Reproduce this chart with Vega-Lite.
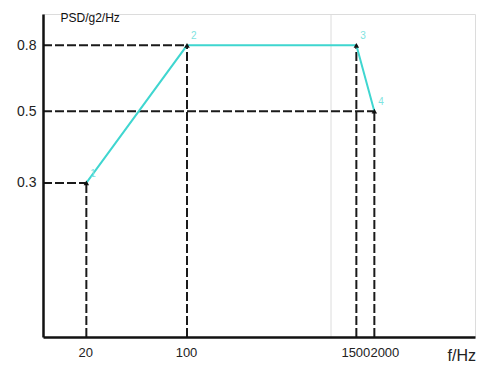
{
  "$schema": "https://vega.github.io/schema/vega-lite/v6.json",
  "width": 432,
  "height": 323,
  "autosize": {"type": "none"},
  "padding": {"left": 43, "top": 14, "right": 3, "bottom": 31},
  "background": "white",
  "config": {
    "view": {"stroke": "#dcdcdc", "strokeWidth": 1},
    "font": "Liberation Sans"
  },
  "datasets": {
    "pts": [
      {"f": 20, "psd": 0.3, "id": "1"},
      {"f": 100, "psd": 0.8, "id": "2"},
      {"f": 1500, "psd": 0.8, "id": "3"},
      {"f": 2000, "psd": 0.5, "id": "4"}
    ],
    "guides": [
      {"f": 10, "f2": 20, "psd": 0.3, "psd2": 0.3},
      {"f": 10, "f2": 100, "psd": 0.8, "psd2": 0.8},
      {"f": 10, "f2": 2000, "psd": 0.5, "psd2": 0.5},
      {"f": 20, "f2": 20, "psd": 0.1, "psd2": 0.3},
      {"f": 100, "f2": 100, "psd": 0.1, "psd2": 0.8},
      {"f": 1500, "f2": 1500, "psd": 0.1, "psd2": 0.8},
      {"f": 2000, "f2": 2000, "psd": 0.1, "psd2": 0.5}
    ],
    "grid": [{"f": 1000, "f2": 1000, "psd": 0.1, "psd2": 1}]
  },
  "encoding": {
    "x": {
      "field": "f", "type": "quantitative",
      "scale": {"type": "log", "domain": [10, 10000], "nice": false},
      "axis": {
        "values": [20, 100, 1500, 2000],
        "format": "d",
        "ticks": false,
        "grid": false,
        "domainColor": "#111",
        "domainWidth": 2.5,
        "labelFontSize": 13,
        "labelColor": "#222",
        "labelPadding": 9,
        "labelOverlap": false,
        "labelFlush": false,
        "labelOffset": {"condition": {"test": "datum.value == 2000", "value": 10}, "value": -1},
        "zindex": 1,
        "title": "f/Hz",
        "titleFontSize": 16,
        "titleFontWeight": "normal",
        "titleColor": "#222",
        "titleAnchor": "start",
        "titleAlign": "left",
        "titleBaseline": "middle",
        "titleX": 404,
        "titleY": 18
      }
    },
    "y": {
      "field": "psd", "type": "quantitative",
      "scale": {"type": "log", "domain": [0.1, 1], "nice": false},
      "axis": {
        "values": [0.3, 0.5, 0.8],
        "format": ".1f",
        "ticks": false,
        "grid": false,
        "domainColor": "#111",
        "domainWidth": 2.5,
        "labelFontSize": 14,
        "labelColor": "#222",
        "labelPadding": 7,
        "labelOverlap": false,
        "labelFlush": false,
        "zindex": 1,
        "title": "PSD/g2/Hz",
        "titleAngle": 0,
        "titleFontSize": 12,
        "titleFontWeight": "normal",
        "titleColor": "#111",
        "titleAlign": "left",
        "titleBaseline": "middle",
        "titleX": 17,
        "titleY": 3
      }
    }
  },
  "layer": [
    {
      "data": {"name": "grid"},
      "mark": {"type": "rule", "color": "#dcdcdc", "strokeWidth": 1},
      "encoding": {"x2": {"field": "f2"}, "y2": {"field": "psd2"}}
    },
    {
      "data": {"name": "guides"},
      "mark": {"type": "rule", "color": "#1a1a1a", "strokeWidth": 2, "strokeDash": [9, 3]},
      "encoding": {"x2": {"field": "f2"}, "y2": {"field": "psd2"}}
    },
    {
      "data": {"name": "pts"},
      "mark": {"type": "line", "color": "#3fd6d0", "strokeWidth": 2}
    },
    {
      "data": {"name": "pts"},
      "mark": {"type": "point", "shape": "triangle-up", "filled": true, "color": "#111", "size": 30, "opacity": 1}
    },
    {
      "data": {"name": "pts"},
      "mark": {"type": "text", "color": "#7fe3e0", "fontSize": 10, "dx": 4, "dy": -9, "align": "left"},
      "encoding": {"text": {"field": "id"}}
    }
  ]
}
